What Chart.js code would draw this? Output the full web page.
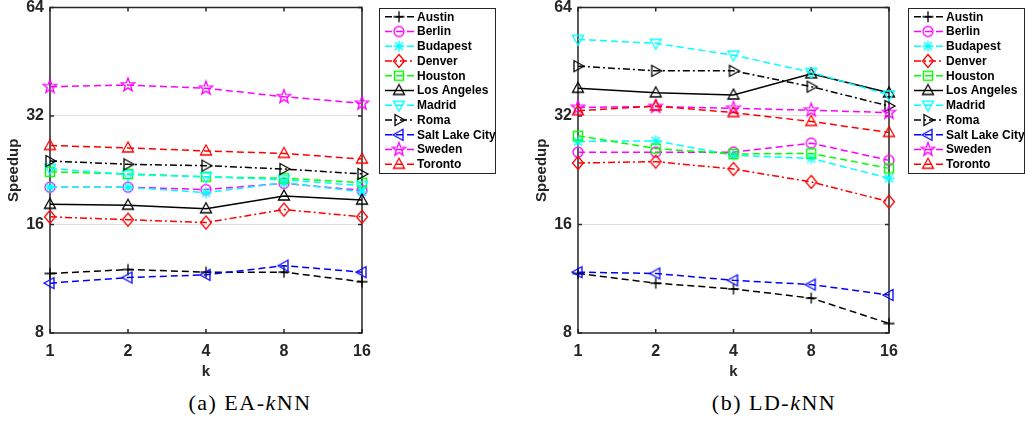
<!DOCTYPE html>
<html>
<head>
<meta charset="utf-8">
<title>Speedup vs k</title>
<script src="https://cdn.jsdelivr.net/npm/chart.js@4/dist/chart.umd.min.js"></script>
<style>
  body { margin: 0; background: #fff; width: 1025px; height: 423px; position: relative; overflow: hidden; }
  canvas { position: absolute; top: 0; }
  #eaChart { left: 0; }
  #ldChart { left: 528px; }
  .caption { position: absolute; top: 390px; font-family: 'Liberation Serif', 'Times New Roman', serif; font-size: 22px; letter-spacing: 1.5px; color: #000; white-space: nowrap; transform: translateX(-50%); }
</style>
</head>
<body>
<canvas id="eaChart" width="500" height="385"></canvas>
<canvas id="ldChart" width="500" height="385"></canvas>
<div class="caption" style="left:250px">(a) EA-<i>k</i>NN</div>
<div class="caption" style="left:774px">(b) LD-<i>k</i>NN</div>

<script>
const kLabels = ['1', '2', '4', '8', '16'];
const yTicks = [8, 16, 32, 64];
const cities = ['Austin', 'Berlin', 'Budapest', 'Denver', 'Houston', 'Los Angeles',
                'Madrid', 'Roma', 'Salt Lake City', 'Sweden', 'Toronto'];

// EA-kNN speedup per city
const eaAustin  = [11.7, 12.0, 11.8, 11.8, 11.1];
const eaBerlin  = [20.3, 20.3, 20.0, 20.8, 19.9];
const eaBudapest = [20.3, 20.3, 19.6, 20.9, 19.7];
const eaDenver  = [16.8, 16.5, 16.2, 17.6, 16.8];
const eaHouston = [22.4, 22.1, 21.7, 21.5, 20.9];
const eaLosAngeles = [18.2, 18.1, 17.7, 19.2, 18.7];
const eaMadrid  = [22.9, 22.0, 21.7, 21.3, 20.5];
const eaRoma    = [24.0, 23.5, 23.3, 22.8, 22.1];
const eaSaltLake = [11.0, 11.4, 11.6, 12.3, 11.8];
const eaSweden  = [38.6, 39.0, 38.2, 36.2, 34.7];
const eaToronto = [26.5, 26.1, 25.6, 25.2, 24.3];

// LD-kNN speedup per city
const ldAustin  = [11.7, 11.0, 10.6, 10.0, 8.5];
const ldBerlin  = [25.4, 25.4, 25.4, 26.9, 24.1];
const ldBudapest = [27.2, 27.3, 24.9, 24.4, 21.5];
const ldDenver  = [23.7, 23.9, 22.8, 21.0, 18.5];
const ldHouston = [28.2, 26.0, 25.1, 25.2, 22.9];
const ldLosAngeles = [38.2, 37.1, 36.6, 41.9, 37.1];
const ldMadrid  = [52.2, 50.9, 47.2, 42.3, 36.6];
const ldRoma    = [44.0, 42.7, 42.7, 38.6, 34.1];
const ldSaltLake = [11.8, 11.7, 11.2, 10.9, 10.2];
const ldSweden  = [33.8, 34.0, 33.6, 33.2, 32.7];
const ldToronto = [33.1, 34.1, 32.7, 30.9, 28.8];

const eaSeries = [eaAustin, eaBerlin, eaBudapest, eaDenver, eaHouston, eaLosAngeles,
                  eaMadrid, eaRoma, eaSaltLake, eaSweden, eaToronto];
const ldSeries = [ldAustin, ldBerlin, ldBudapest, ldDenver, ldHouston, ldLosAngeles,
                  ldMadrid, ldRoma, ldSaltLake, ldSweden, ldToronto];

const DASH = [7, 4];
const DASHDOT = [7, 3, 2, 3];
const styles = [
  { color: '#000000', dash: DASH,    marker: 'plus' },
  { color: '#ff00ff', dash: DASH,    marker: 'circle' },
  { color: '#00ffff', dash: DASH,    marker: 'asterisk' },
  { color: '#ff0000', dash: DASHDOT, marker: 'diamond' },
  { color: '#00ff00', dash: DASH,    marker: 'square' },
  { color: '#000000', dash: [],      marker: 'up' },
  { color: '#00ffff', dash: DASH,    marker: 'down' },
  { color: '#000000', dash: DASHDOT, marker: 'right' },
  { color: '#0000ff', dash: DASH,    marker: 'left' },
  { color: '#ff00ff', dash: DASH,    marker: 'pentagram' },
  { color: '#ff0000', dash: DASH,    marker: 'up' }
];

const FONT = "'Liberation Sans', Arial, Helvetica, sans-serif";
const AXIS_COLOR = '#262626';

// hollow matlab-style markers, used as point images and in the legend
function makeMarker(shape, color) {
  const c = document.createElement('canvas');
  c.width = 18; c.height = 18;
  const g = c.getContext('2d');
  g.strokeStyle = color;
  g.lineWidth = 1.3;
  g.translate(9, 9);
  g.beginPath();
  const poly = pts => { g.moveTo(pts[0][0], pts[0][1]); pts.slice(1).forEach(p => g.lineTo(p[0], p[1])); g.closePath(); };
  switch (shape) {
    case 'plus':
      g.moveTo(-5.5, 0); g.lineTo(5.5, 0); g.moveTo(0, -5.5); g.lineTo(0, 5.5);
      break;
    case 'circle':
      g.arc(0, 0, 5, 0, Math.PI * 2);
      break;
    case 'asterisk':
      g.moveTo(-5.5, 0); g.lineTo(5.5, 0); g.moveTo(0, -5.5); g.lineTo(0, 5.5);
      g.moveTo(-4, -4); g.lineTo(4, 4); g.moveTo(-4, 4); g.lineTo(4, -4);
      break;
    case 'diamond':
      poly([[0, -6.5], [5.5, 0], [0, 6.5], [-5.5, 0]]);
      break;
    case 'square':
      g.rect(-4.5, -4.5, 9, 9);
      break;
    case 'up':
      poly([[0, -6], [5.5, 4], [-5.5, 4]]);
      break;
    case 'down':
      poly([[0, 6], [5.5, -4], [-5.5, -4]]);
      break;
    case 'right':
      poly([[6, 0], [-4, -5.5], [-4, 5.5]]);
      break;
    case 'left':
      poly([[-6, 0], [4, -5.5], [4, 5.5]]);
      break;
    case 'pentagram': {
      const pts = [];
      for (let i = 0; i < 10; i++) {
        const r = i % 2 ? 2.9 : 7;
        const a = -Math.PI / 2 + i * Math.PI / 5;
        pts.push([r * Math.cos(a), r * Math.sin(a)]);
      }
      poly(pts);
      break;
    }
  }
  g.stroke();
  return c;
}

const markers = styles.map(s => makeMarker(s.marker, s.color));

// axes box with inward tick marks
const axesBox = {
  id: 'axesBox',
  beforeDatasetsDraw(chart) {
    const { ctx, chartArea: a, scales } = chart;
    ctx.save();
    ctx.strokeStyle = AXIS_COLOR;
    ctx.lineWidth = 1.5;
    ctx.strokeRect(a.left, a.top, a.right - a.left, a.bottom - a.top);
    ctx.beginPath();
    kLabels.forEach((_, i) => {
      const x = scales.x.getPixelForValue(i);
      ctx.moveTo(x, a.bottom); ctx.lineTo(x, a.bottom - 4);
      ctx.moveTo(x, a.top); ctx.lineTo(x, a.top + 4);
    });
    yTicks.forEach(v => {
      const y = scales.y.getPixelForValue(v);
      ctx.moveTo(a.left, y); ctx.lineTo(a.left + 4, y);
      ctx.moveTo(a.right, y); ctx.lineTo(a.right - 4, y);
    });
    ctx.stroke();
    ctx.restore();
  }
};

// boxed legend to the right of the axes
const boxLegend = {
  id: 'boxLegend',
  afterDraw(chart, args, opts) {
    const { ctx } = chart;
    const { x, y, w, h } = opts;
    ctx.save();
    ctx.fillStyle = '#fff';
    ctx.fillRect(x, y, w, h);
    ctx.strokeStyle = AXIS_COLOR;
    ctx.lineWidth = 1;
    ctx.strokeRect(x + 0.5, y + 0.5, w, h);
    chart.data.datasets.forEach((ds, i) => {
      const cy = y + 8.7 + i * 14.76;
      ctx.beginPath();
      ctx.setLineDash(ds.borderDash);
      ctx.strokeStyle = ds.borderColor;
      ctx.lineWidth = 1.5;
      ctx.moveTo(x + 6, cy);
      ctx.lineTo(x + 35, cy);
      ctx.stroke();
      ctx.setLineDash([]);
      ctx.drawImage(markers[i], x + 20 - 9, cy - 9);
      ctx.fillStyle = '#000';
      ctx.font = 'bold 12px ' + FONT;
      ctx.textBaseline = 'middle';
      ctx.fillText(ds.label, x + 38, cy + 0.5);
    });
    ctx.restore();
  }
};

function buildChart(canvasId, series, legendX, rightPad) {
  const datasets = cities.map((name, i) => ({
    label: name,
    data: series[i],
    borderColor: styles[i].color,
    borderDash: styles[i].dash,
    borderWidth: 1.5,
    pointStyle: markers[i],
    pointRadius: 6,
    pointHoverRadius: 6,
    tension: 0,
    fill: false,
    clip: false,
    order: cities.length - i
  }));

  return new Chart(document.getElementById(canvasId), {
    type: 'line',
    data: { labels: kLabels, datasets },
    plugins: [axesBox, boxLegend],
    options: {
      responsive: false,
      animation: false,
      events: [],
      layout: { padding: { top: 7.5, right: rightPad, bottom: 0, left: 0 } },
      plugins: {
        legend: { display: false },
        tooltip: { enabled: false },
        boxLegend: { x: legendX, y: 8, w: 116, h: 165 }
      },
      scales: {
        x: {
          type: 'category',
          offset: false,
          grid: { display: false, drawTicks: false },
          border: { display: false },
          ticks: { color: AXIS_COLOR, padding: 9, font: { family: FONT, size: 16, weight: 'bold' } },
          title: { display: true, text: 'k', color: AXIS_COLOR, padding: { top: 2, bottom: 4 },
                   font: { family: FONT, size: 15, weight: 'bold' } },
          afterFit: s => { s.height = 52; s.paddingLeft = 0; s.paddingRight = 0; }
        },
        y: {
          type: 'logarithmic',
          min: 8,
          max: 64,
          afterBuildTicks: s => { s.ticks = yTicks.map(v => ({ value: v })); },
          grid: {
            drawTicks: false,
            color: c => (c.tick && (c.tick.value === 16 || c.tick.value === 32)) ? '#dfdfdf' : 'rgba(0,0,0,0)',
            lineWidth: 1
          },
          border: { display: false },
          ticks: { color: AXIS_COLOR, padding: 6, callback: v => String(v),
                   font: { family: FONT, size: 16, weight: 'bold' } },
          title: { display: true, text: 'Speedup', color: AXIS_COLOR, padding: { top: 5, bottom: 0 },
                   font: { family: FONT, size: 15, weight: 'bold' } },
          afterFit: s => { s.width = 50; s.paddingTop = 0; s.paddingBottom = 0; }
        }
      }
    }
  });
}

buildChart('eaChart', eaSeries, 379, 138);
buildChart('ldChart', ldSeries, 380, 139);
</script>
</body>
</html>
